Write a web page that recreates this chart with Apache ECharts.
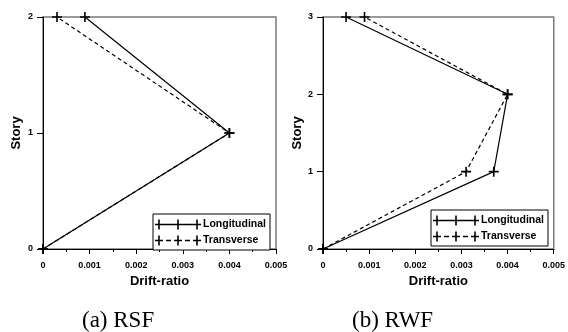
<!DOCTYPE html>
<html>
<head>
<meta charset="utf-8">
<script src="https://cdn.jsdelivr.net/npm/echarts@6/dist/echarts.min.js"></script>
<style>html,body{margin:0;padding:0;background:#fff}#c{width:568px;height:332px}</style>
</head>
<body>
<div id="c"></div>
<script>
// Data
var seriesNames = ['Longitudinal', 'Transverse'];
var rsfStories = [0, 1, 2];
var rsfLongitudinal = [0, 0.004, 0.0009];
var rsfTransverse = [0, 0.004, 0.0003];
var rwfStories = [0, 1, 2, 3];
var rwfLongitudinal = [0, 0.0037, 0.004, 0.0005];
var rwfTransverse = [0, 0.0031, 0.004, 0.0009];
var captions = ['(a) RSF', '(b) RWF'];
var xAxisName = 'Drift-ratio';
var yAxisName = 'Story';

function pairs(xs, ys) { return xs.map(function (v, i) { return [v, ys[i]]; }); }

var plus = 'path://M4.2,0H5.8V4.2H10V5.8H5.8V10H4.2V5.8H0V4.2H4.2Z';
var iconSolid = 'path://M0,4.2H46V5.8H0Z M3.2,0H4.8V10H3.2Z M22.2,0H23.8V10H22.2Z M41.2,0H42.8V10H41.2Z';
var iconDashed = 'path://M0,4.2H8V5.8H0Z M11,4.2H16V5.8H11Z M19,4.2H27V5.8H19Z M30,4.2H35V5.8H30Z M38,4.2H46V5.8H38Z M3.2,0H4.8V10H3.2Z M22.2,0H23.8V10H22.2Z M41.2,0H42.8V10H41.2Z';
var font = 'Liberation Sans, Arial, sans-serif';

function xAxisCfg(gi) {
  return {
    gridIndex: gi, type: 'value', min: 0, max: 0.005, interval: 0.001,
    name: xAxisName, nameLocation: 'middle', nameGap: 21,
    nameTextStyle: { fontFamily: font, fontWeight: 'bold', fontSize: 13, color: '#000' },
    axisLine: { show: true, lineStyle: { color: '#000', width: 1 } },
    axisTick: { show: true, length: 5, lineStyle: { color: '#000' } },
    minorTick: { show: true, splitNumber: 2, length: 3, lineStyle: { color: '#000' } },
    splitLine: { show: false },
    axisLabel: { fontFamily: font, fontWeight: 'bold', fontSize: 9, color: '#000', margin: 12,
      formatter: function (v) { return v === 0 ? '0' : v.toFixed(3); } }
  };
}
function yAxisCfg(gi, max, gap) {
  return {
    gridIndex: gi, type: 'value', min: 0, max: max, interval: 1,
    name: yAxisName, nameLocation: 'middle', nameGap: gap, nameRotate: 90,
    nameTextStyle: { fontFamily: font, fontWeight: 'bold', fontSize: 13, color: '#000' },
    axisLine: { show: true, lineStyle: { color: '#000', width: 1 } },
    axisTick: { show: true, length: 6, lineStyle: { color: '#000' } },
    splitLine: { show: false },
    axisLabel: { fontFamily: font, fontWeight: 'bold', fontSize: 9, color: '#000', margin: 10 }
  };
}
function lineSeries(name, data, gi, dashed) {
  return {
    name: name, type: 'line', xAxisIndex: gi, yAxisIndex: gi, data: data,
    symbol: plus, symbolSize: 10, showAllSymbol: true,
    itemStyle: { color: '#000' },
    lineStyle: { color: '#000', width: 1.2, type: dashed ? [4, 3] : 'solid' },
    animation: false
  };
}
function legendCfg(left, top) {
  return {
    data: [{ name: seriesNames[0], icon: iconSolid }, { name: seriesNames[1], icon: iconDashed }],
    orient: 'vertical', left: left, top: top,
    itemWidth: 46, itemHeight: 10, itemGap: 5,
    padding: [5, 4, 4, 2],
    borderColor: '#000', borderWidth: 1, backgroundColor: '#fff',
    itemStyle: { borderWidth: 0, color: '#000' },
    textStyle: { fontFamily: font, fontWeight: 'bold', fontSize: 10.5, color: '#000', padding: [0, 0, 0, -3] },
    selectedMode: false
  };
}

var chart = echarts.init(document.getElementById('c'), null, { renderer: 'canvas' });
chart.setOption({
  animation: false,
  backgroundColor: '#fff',
  grid: [
    { left: 43, right: 292, top: 17, bottom: 83, show: true, borderColor: '#7a7a7a', borderWidth: 1.5, backgroundColor: 'transparent' },
    { left: 323, right: 12, top: 17, bottom: 83, show: true, borderColor: '#7a7a7a', borderWidth: 1.5, backgroundColor: 'transparent' }
  ],
  xAxis: [xAxisCfg(0), xAxisCfg(1)],
  yAxis: [yAxisCfg(0, 2, 20), yAxisCfg(1, 3, 16)],
  legend: [legendCfg(153, 214), legendCfg(431, 210)],
  series: [
    lineSeries(seriesNames[0], pairs(rsfLongitudinal, rsfStories), 0, false),
    lineSeries(seriesNames[1], pairs(rsfTransverse, rsfStories), 0, true),
    lineSeries(seriesNames[0], pairs(rwfLongitudinal, rwfStories), 1, false),
    lineSeries(seriesNames[1], pairs(rwfTransverse, rwfStories), 1, true)
  ],
  graphic: [
    { type: 'text', left: 82, top: 309, style: { text: captions[0], font: '23px "Liberation Serif", "Times New Roman", serif', fill: '#000' } },
    { type: 'text', left: 352, top: 309, style: { text: captions[1], font: '23px "Liberation Serif", "Times New Roman", serif', fill: '#000' } }
  ]
});
</script>
</body>
</html>
